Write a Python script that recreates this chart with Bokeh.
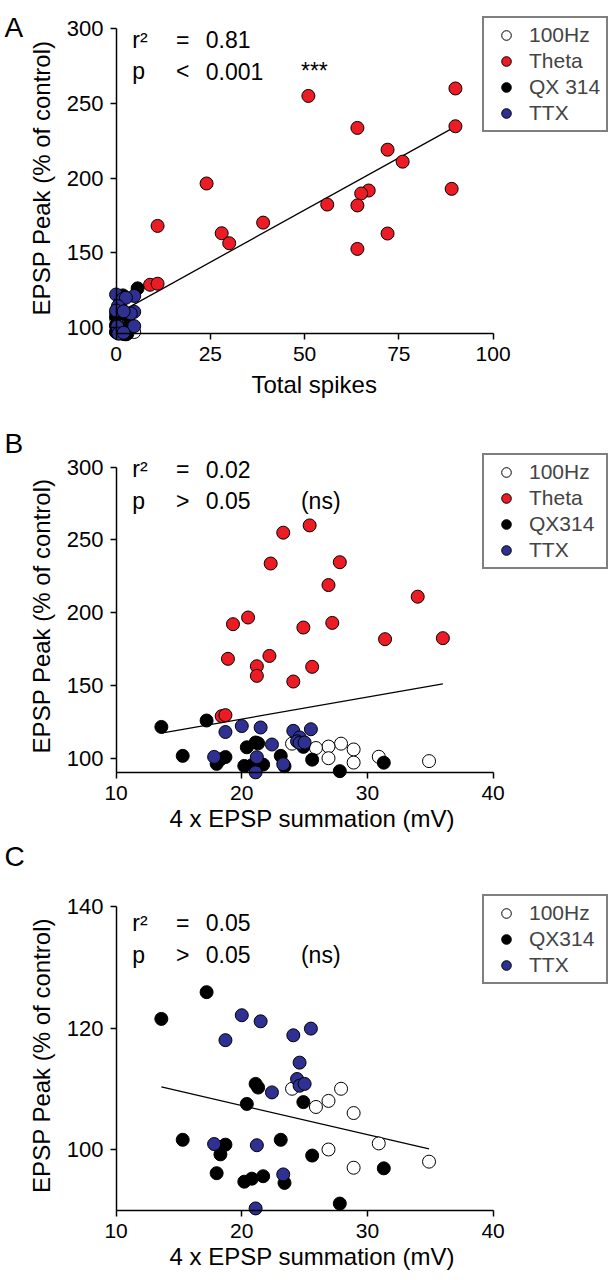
from bokeh.plotting import figure
from bokeh.models import Range1d, LinearAxis, FixedTicker, Label, Legend, LegendItem, Title
from bokeh.layouts import column, row
from bokeh.embed import file_html
from bokeh.resources import INLINE

FONT = "Liberation Sans"
RED = "#ED1C24"
BLUE = "#2E3192"

# ---------------- data ----------------
# Panel A: total spikes vs EPSP peak (% of control)
a_hz_x = [1, 0, 2, 3, 0, 4, 1, 4.8, 3]
a_hz_y = [110, 110, 108, 107, 106, 101, 100, 97, 98]
a_theta_x = [51, 90, 90, 64, 72, 76, 24, 67, 65, 89, 56, 64, 11, 39, 28, 30, 72, 64, 9, 11]
a_theta_y = [255, 260, 234.7, 233.6, 219, 211, 196.4, 191.7, 189.7, 192.8,
             182.3, 181.7, 168, 170.2, 163.1, 156.4, 162.9, 152.6, 128.6, 129.3]
a_qx_x = [5.7, 1.8, 2, 1, 0, 3, 0, 4, 0, 2, 1, 0, 1, 3, 0, 2, 2.6, 1]
a_qx_y = [126.2, 121.5, 110.8, 110.2, 107.5, 107.8, 101.6, 101.6, 100.8, 99.2,
          99.0, 96.9, 96.1, 96.0, 97.0, 95.6, 95.3, 97.0]
a_ttx_x = [0, 4.8, 1, 1.8, 2.6, 0.5, 0, 4.8, 3.9, 2, 4.8, 0.3, 0.6, 2]
a_ttx_y = [122.1, 121.1, 116.5, 119.2, 119.9, 114.3, 111.4, 110.5, 109.4, 110.8,
           100.9, 100.7, 95.9, 96.5]
a_fit_x = [0, 90]
a_fit_y = [108.8, 234.5]
a_xticks = [0, 25, 50, 75, 100]
a_yticks = [100, 150, 200, 250, 300]

# Panels B and C: 4 x EPSP summation (mV) vs EPSP peak (% of control)
hz_x = [24.0, 27.9, 26.9, 25.9, 28.9, 30.9, 26.9, 28.9, 34.9]
hz_y = [110.0, 110.0, 108.0, 107.0, 106.0, 101.0, 100.0, 97.0, 98.0]
theta_x = [23.3, 25.4, 22.3, 27.8, 26.9, 34.0, 19.3, 20.5, 24.9, 27.2,
           31.4, 36.0, 18.9, 22.2, 21.2, 25.6, 21.2, 24.1, 18.4, 18.7]
theta_y = [255, 260, 233.8, 234.7, 219, 211, 192.1, 196.7, 189.8, 193,
           181.8, 182.5, 168.3, 170.3, 163.2, 162.8, 156.6, 152.7, 128.9, 129.6]
qx_x = [17.2, 13.6, 21.1, 21.3, 20.4, 24.9, 15.3, 23.1, 18.7, 18.3,
        25.6, 31.3, 18.0, 20.2, 20.8, 21.7, 23.4, 27.8]
qx_y = [125.9, 121.5, 110.8, 110.2, 107.5, 107.8, 101.6, 101.6, 100.8, 99.2,
        99.0, 96.9, 96.1, 94.7, 95.2, 95.6, 94.5, 91.1]
ttx_x = [20.0, 21.5, 18.7, 24.1, 25.5, 24.6, 24.4, 24.6, 25.0, 22.4, 17.8, 21.2, 23.3, 21.1]
ttx_y = [122.1, 121.1, 118.0, 118.8, 119.9, 114.3, 111.6, 110.5, 110.8, 109.4,
         100.9, 100.7, 95.9, 90.3]
b_fit_x = [13.6, 36.0]
b_fit_y = [117.2, 151.1]
c_fit_x = [13.6, 34.9]
c_fit_y = [110.3, 100.1]
bc_xticks = [10, 20, 30, 40]
b_yticks = [100, 150, 200, 250, 300]
c_yticks = [100, 120, 140]

X_TITLE_A = "Total spikes"
X_TITLE_BC = "4 x EPSP summation (mV)"
Y_TITLE = "EPSP Peak (% of control)"
LETTERS = ["A", "B", "C"]

# ---------------- layout helpers (page pixel geometry) ----------------
W = 611
H_PAGE = 1280
LW = 24          # width of the strip that carries the panel letters
PW = W - LW      # width of each plot figure


def inv(v0, p0, v1, p1):
    k = (p1 - p0) / (v1 - v0)
    return lambda p: v0 + (p - p0) / k


def style_common(ax):
    ax.major_label_text_font = FONT
    ax.major_label_text_font_size = "21px"
    ax.major_label_text_color = "black"
    ax.minor_tick_out = 0
    ax.minor_tick_in = 0


def letter_strip(bases):
    s = figure(width=LW, height=H_PAGE, x_range=Range1d(0, LW), y_range=Range1d(H_PAGE, 0),
               x_axis_type=None, y_axis_type=None, toolbar_location=None,
               output_backend="svg", min_border=0)
    s.outline_line_color = None
    for letter, base in zip(LETTERS, bases):
        s.add_layout(Label(x=4, y=base, text=letter, text_font=FONT,
                           text_font_size="28px", text_color="black",
                           text_align="left", text_baseline="alphabetic"))
    return s


def make_panel(cfg):
    xv = inv(*cfg["xmap"])
    yv = inv(*cfg["ymap"])
    top, H = cfg["top"], cfg["height"]
    fl, fr, ft, fb = cfg["frame"]
    p = figure(width=PW, height=H,
               x_range=Range1d(xv(fl), xv(fr)), y_range=Range1d(yv(fb), yv(ft)),
               x_axis_type=None, y_axis_type=None,
               toolbar_location=None, output_backend="svg",
               min_border_left=fl - LW, min_border_right=W - fr,
               min_border_top=ft - top, min_border_bottom=top + H - fb)
    p.outline_line_color = None
    p.background_fill_color = "white"
    p.border_fill_color = "white"

    xt, yt = cfg["xticks"], cfg["yticks"]

    # label axes (at the frame edges): tick labels and y title only
    xl = LinearAxis(ticker=FixedTicker(ticks=xt))
    yl = LinearAxis(ticker=FixedTicker(ticks=yt), axis_label=Y_TITLE)
    for ax in (xl, yl):
        style_common(ax)
        ax.axis_line_color = None
        ax.major_tick_line_color = None
        ax.major_tick_out = 0
        ax.major_tick_in = 0
    yl.major_label_text_font_size = "22px"
    xl.major_label_standoff = 5
    yl.major_label_standoff = 1
    yl.axis_label_text_font = FONT
    yl.axis_label_text_font_size = "24px"
    yl.axis_label_text_font_style = "normal"
    yl.axis_label_text_color = "black"
    yl.axis_label_standoff = 9
    p.add_layout(xl, "below")
    p.add_layout(yl, "left")

    # x title, placed under the tick labels
    p.add_layout(Title(text=cfg["xtitle"], align="left", offset=cfg["xtitle_left"] - fl,
                       vertical_align="top", standoff=cfg["xtitle_gap"], text_font=FONT,
                       text_font_size="24px", text_font_style="normal",
                       text_color="black"), "below")

    # line axes (at the data origin): axis lines and ticks only
    xa = LinearAxis(ticker=FixedTicker(ticks=xt), fixed_location=cfg["xaxis_at"],
                    bounds=(xt[0], xt[-1]))
    ya = LinearAxis(ticker=FixedTicker(ticks=yt), fixed_location=xt[0],
                    bounds=(cfg["xaxis_at"], yt[-1]))
    for ax in (xa, ya):
        style_common(ax)
        ax.major_label_text_font_size = "0px"
        ax.major_label_text_alpha = 0
        ax.major_label_standoff = 0
        ax.axis_line_width = 1.5
        ax.axis_line_color = "black"
        ax.major_tick_line_width = 1.5
        ax.major_tick_line_color = "black"
    xa.major_tick_out = 0
    xa.major_tick_in = 6
    ya.major_tick_out = 6
    ya.major_tick_in = 0
    p.add_layout(xa, "above")
    p.add_layout(ya, "left")

    p.line(cfg["fit"][0], cfg["fit"][1], line_color="black", line_width=1.3)

    items = []
    for name, xs, ys, color in cfg["groups"]:
        r = p.scatter(xs, ys, size=13, fill_color=color, line_color="black", line_width=1)
        items.append(LegendItem(label=name, renderers=[r]))
    leg = Legend(items=items, location="top_right", margin=2, padding=5, spacing=2,
                 glyph_height=24, glyph_width=34, label_standoff=6, label_width=72,
                 border_line_color="black", border_line_width=2,
                 label_text_font=FONT, label_text_font_size="21px",
                 background_fill_color="white", background_fill_alpha=1)
    p.add_layout(leg)

    def lab(text, px, py, size):
        p.add_layout(Label(x=xv(px), y=yv(py), text=text, text_font=FONT,
                           text_font_size=size, text_color="black",
                           text_align="left", text_baseline="alphabetic"))

    r1, r2 = cfg["stat_base"]
    lab("r\u00b2", 128, r1, "23px")
    lab("=", 172, r1, "23px")
    lab(cfg["r2"], 202, r1, "23px")
    lab("p", 128, r2, "23px")
    lab(cfg["op"], 172, r2, "23px")
    lab(cfg["pval"], 202, r2, "23px")
    lab(cfg["sig"], 298, r2, "23px")
    return p


pA = make_panel(dict(
    xmap=(0, 111.7, 100, 491.7), ymap=(100, 327.0, 300, 28.2),
    top=0, height=412, frame=(100, 610, 14, 341),
    xticks=a_xticks, yticks=a_yticks, xaxis_at=96,
    fit=(a_fit_x, a_fit_y),
    groups=[("100Hz", a_hz_x, a_hz_y, "white"), ("Theta", a_theta_x, a_theta_y, RED),
            ("QX 314", a_qx_x, a_qx_y, "black"), ("TTX", a_ttx_x, a_ttx_y, BLUE)],
    stat_base=(39, 70.5),
    r2="0.81", op="<", pval="0.001", sig="***",
    xtitle=X_TITLE_A, xtitle_left=247, xtitle_gap=14))

pB = make_panel(dict(
    xmap=(10, 111.7, 40, 491.7), ymap=(100, 757.7, 300, 466.7),
    top=412, height=430, frame=(100, 610, 451, 780),
    xticks=bc_xticks, yticks=b_yticks, xaxis_at=90.4,
    fit=(b_fit_x, b_fit_y),
    groups=[("100Hz", hz_x, hz_y, "white"), ("Theta", theta_x, theta_y, RED),
            ("QX314", qx_x, qx_y, "black"), ("TTX", ttx_x, ttx_y, BLUE)],
    stat_base=(468.5, 500),
    r2="0.02", op=">", pval="0.05", sig="(ns)",
    xtitle=X_TITLE_BC, xtitle_left=165, xtitle_gap=5))

pC = make_panel(dict(
    xmap=(10, 111.7, 40, 491.7), ymap=(100, 1149.0, 140, 906.0),
    top=842, height=438, frame=(100, 610, 892, 1218),
    xticks=bc_xticks, yticks=c_yticks, xaxis_at=90,
    fit=(c_fit_x, c_fit_y),
    groups=[("100Hz", hz_x, hz_y, "white"),
            ("QX314", qx_x, qx_y, "black"), ("TTX", ttx_x, ttx_y, BLUE)],
    stat_base=(922, 954),
    r2="0.05", op=">", pval="0.05", sig="(ns)",
    xtitle=X_TITLE_BC, xtitle_left=165, xtitle_gap=5))

layout = row(letter_strip([27, 443, 856]), column(pA, pB, pC, spacing=0), spacing=0)
open("out.html", "w").write(file_html(layout, INLINE))
